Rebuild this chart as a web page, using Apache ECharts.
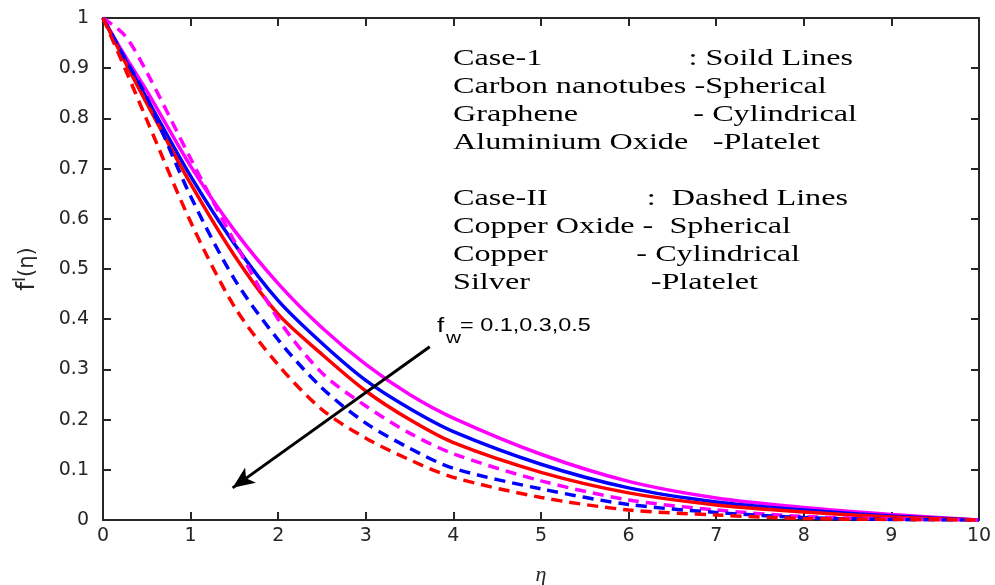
<!DOCTYPE html>
<html>
<head>
<meta charset="utf-8">
<script src="https://cdn.jsdelivr.net/npm/echarts@6/dist/echarts.min.js"></script>
<style>
html, body { margin: 0; padding: 0; background: #fff; }
#chart { width: 995px; height: 585px; }
</style>
</head>
<body>
<div id="chart"></div>
<script>
// eta grid and f'(eta) values
const eta = [0, 0.25, 0.5, 1, 1.5, 2, 2.5, 3, 3.5, 4, 5, 6, 7, 8, 9, 10]

// Case-1 : solid lines
const solidMagenta = [1, 0.925, 0.855, 0.705, 0.577, 0.471, 0.383, 0.31, 0.25, 0.203, 0.131, 0.077, 0.044, 0.025, 0.011, 0]
const solidBlue = [1, 0.918, 0.84, 0.685, 0.55, 0.437, 0.352, 0.278, 0.222, 0.176, 0.111, 0.064, 0.036, 0.02, 0.008, 0]
const solidRed = [1, 0.913, 0.83, 0.67, 0.527, 0.41, 0.33, 0.257, 0.2, 0.154, 0.095, 0.054, 0.03, 0.016, 0.006, 0]

// Case-II : dashed lines
const dashMagenta = [1, 0.965, 0.892, 0.72, 0.555, 0.40, 0.293, 0.227, 0.173, 0.132, 0.078, 0.04, 0.02, 0.007, 0.002, 0]
const dashBlue = [1, 0.92, 0.842, 0.645, 0.48, 0.359, 0.263, 0.193, 0.143, 0.103, 0.062, 0.031, 0.015, 0.005, 0.001, 0]
const dashRed = [1, 0.9, 0.797, 0.594, 0.425, 0.309, 0.22, 0.163, 0.12, 0.085, 0.045, 0.02, 0.01, 0.003, 0.001, 0]

// arrow for f_w = 0.1, 0.3, 0.5
const arrowFrom = [3.73, 0.345]
const arrowTo = [1.48, 0.064]

// text, x, y, align
const legendRows = [
  ['Case-1', 453, 59, 'left'], [': Soild Lines', 853, 59, 'right'],
  ['Carbon nanotubes -Spherical', 453, 87, 'left'],
  ['Graphene', 453, 115, 'left'], ['- Cylindrical', 857, 115, 'right'],
  ['Aluminium Oxide', 453, 143, 'left'], ['-Platelet', 820, 143, 'right'],
  ['Case-II', 453, 199, 'left'], [':  Dashed Lines', 848, 199, 'right'],
  ['Copper Oxide -  Spherical', 453, 227, 'left'],
  ['Copper', 453, 255, 'left'], ['- Cylindrical', 800, 255, 'right'],
  ['Silver', 453, 283, 'left'], ['-Platelet', 758, 283, 'right']
]

function pairs(ys) {
  return eta.map((x, i) => [x, ys[i]])
}

function line(data, color, dashed) {
  return {
    type: 'line',
    data: pairs(data),
    smooth: 0.3,
    showSymbol: false,
    symbol: 'none',
    lineStyle: {
      color: color,
      width: 3.5,
      type: dashed ? [11, 7] : 'solid'
    }
  }
}

const chart = echarts.init(document.getElementById('chart'))

const axisCommon = {
  type: 'value',
  axisLine: { show: true, onZero: false, lineStyle: { color: '#262626', width: 2 } },
  axisTick: { show: true, inside: true, length: 8, lineStyle: { color: '#262626', width: 2 } },
  splitLine: { show: false }
}

const series = [
  line(solidMagenta, '#ff00ff', false),
  line(solidBlue, '#0000ff', false),
  line(solidRed, '#ff0000', false),
  line(dashMagenta, '#ff00ff', true),
  line(dashBlue, '#0000ff', true),
  line(dashRed, '#ff0000', true)
]
series[5].markLine = {
  silent: true,
  symbol: ['none', 'arrow'],
  symbolSize: [14, 22],
  label: { show: false },
  lineStyle: { color: '#000', width: 3, type: 'solid' },
  data: [[{ coord: arrowFrom }, { coord: arrowTo }]]
}

const option = {
  animation: false,
  grid: { left: 103, right: 16, top: 18, bottom: 65, outerBoundsMode: 'none' },
  xAxis: [
    Object.assign({}, axisCommon, {
      min: 0, max: 10, interval: 1,
      position: 'bottom',
      name: 'η',
      nameLocation: 'middle',
      nameGap: 44,
      nameTextStyle: { fontFamily: 'Liberation Serif', fontStyle: 'italic', fontSize: 22, color: '#262626' },
      axisLabel: { fontFamily: 'DejaVu Sans', fontSize: 19, color: '#262626', margin: 7 }
    }),
    Object.assign({}, axisCommon, {
      min: 0, max: 10, interval: 1,
      position: 'top',
      axisLabel: { show: false }
    })
  ],
  yAxis: [
    Object.assign({}, axisCommon, {
      min: 0, max: 1, interval: 0.1,
      position: 'left',
      name: '{f|f}{sup|I}{p|(η)}',
      nameLocation: 'middle',
      nameGap: 60,
      nameRotate: 90,
      nameTextStyle: {
        rich: {
          f: { fontFamily: 'DejaVu Sans', fontSize: 25, color: '#262626' },
          sup: { fontFamily: 'DejaVu Sans', fontSize: 17, color: '#262626', verticalAlign: 'top', padding: [0, 0, 14, 0] },
          p: { fontFamily: 'DejaVu Sans', fontSize: 21, color: '#262626' }
        }
      },
      axisLabel: { fontFamily: 'DejaVu Sans', fontSize: 19, color: '#262626', margin: 14 }
    }),
    Object.assign({}, axisCommon, {
      min: 0, max: 1, interval: 0.1,
      position: 'right',
      axisLabel: { show: false }
    })
  ],
  graphic: legendRows.map(r => ({
    type: 'text',
    x: r[1],
    y: r[2],
    scaleX: 1.4,
    style: {
      text: r[0],
      fontFamily: 'Liberation Serif',
      fontSize: 23,
      fill: '#000',
      align: r[3],
      verticalAlign: 'middle'
    }
  })).concat([
    { type: 'text', x: 437, y: 326, scaleX: 1.3, style: { text: 'f', fontFamily: 'Liberation Sans', fontSize: 20, fill: '#000', verticalAlign: 'middle' } },
    { type: 'text', x: 446, y: 339, scaleX: 1.3, style: { text: 'w', fontFamily: 'Liberation Sans', fontSize: 16, fill: '#000', verticalAlign: 'middle' } },
    { type: 'text', x: 460, y: 326, scaleX: 1.3, style: { text: '= 0.1,0.3,0.5', fontFamily: 'Liberation Sans', fontSize: 18, fill: '#000', verticalAlign: 'middle' } }
  ]),
  series: series
}

chart.setOption(option)
</script>
</body>
</html>
